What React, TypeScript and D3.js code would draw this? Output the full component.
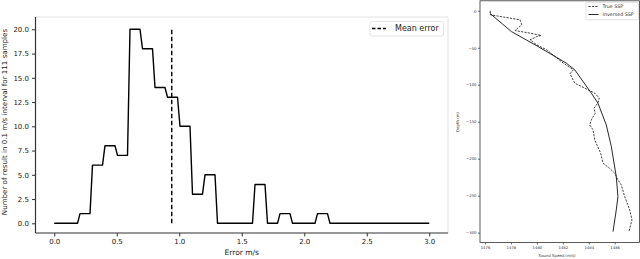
import * as d3 from 'd3';
import { useEffect, useRef } from 'react';

// left chart: counts per 0.1 m/s bin, 0.0 .. 3.0
const binStarts = d3.range(30).map((i) => +(i * 0.1).toFixed(1));
const binCounts = [0, 0, 1, 6, 8, 7, 20, 18, 14, 13, 10, 3, 5, 0, 0, 0, 4, 0, 1, 0, 0, 1, 0, 0, 0, 0, 0, 0, 0, 0];
const meanError = 0.94;
const errTicks = [0, 0.5, 1.0, 1.5, 2.0, 2.5, 3.0];
const countTicks = [0, 2.5, 5, 7.5, 10, 12.5, 15, 17.5, 20];

// right chart: sound speed profiles (speed m/s, depth m)
const trueSpeed = [1476.41, 1476.41, 1478.7, 1478.83, 1478.31, 1479.47, 1480.32, 1479.99, 1479.47, 1479.99, 1480.76, 1481.4, 1482.04, 1482.81, 1482.55, 1482.92, 1483.69, 1484.46, 1484.81, 1484.71, 1484.4, 1484.5, 1484.2, 1484.07, 1484.33, 1484.46, 1484.92, 1485.1, 1485.61, 1486.0, 1486.25, 1486.51, 1486.77, 1487.16, 1487.33, 1487.23, 1487.1];
const trueDepth = [0, -5.4, -12.2, -18.9, -26.7, -30.2, -33.4, -34.8, -39.2, -46, -52.8, -61.8, -70.8, -79.8, -85.2, -97.8, -104.6, -111.4, -118.1, -124.5, -131.7, -138.4, -147.5, -154.3, -161, -174.6, -192.6, -206.1, -212.9, -219.6, -228.7, -235.5, -251.3, -269.3, -282.8, -289.6, -298.6];
const invSpeed = [1476.36, 1478.03, 1480.09, 1482.27, 1482.92, 1484.2, 1484.71, 1485.35, 1485.74, 1486.12, 1486.25, 1486.12, 1485.87];
const invDepth = [-3.1, -28, -48.3, -70.8, -79.8, -111.4, -124.9, -154.3, -183.6, -224.2, -251.3, -269.3, -298.6];
const speedTicks = [1476, 1478, 1480, 1482, 1484, 1486];
const depthTicks = [0, -50, -100, -150, -200, -250, -300];

const FONT = 'DejaVu Sans';

export default function App() {
  const ref = useRef<SVGSVGElement | null>(null);
  useEffect(() => {
    if (!ref.current) return;
    const svg = d3.select(ref.current);
    svg.selectAll('*').remove();
    svg.append('rect').attr('width', 640).attr('height', 259).attr('fill', '#fff');

    // ---------- left chart ----------
    const L = { left: 35.5, right: 448, top: 17, bottom: 233 };
    const x = d3.scaleLinear().domain([-0.15, 3.15]).range([L.left, L.right]);
    const y = d3.scaleLinear().domain([-1, 21.27]).range([L.bottom, L.top]);
    const g = svg.append('g').attr('font-family', FONT);

    g.append('line').attr('x1', L.left).attr('x2', L.right).attr('y1', L.top).attr('y2', L.top).attr('stroke', '#e2e2e2');
    g.append('line').attr('x1', L.right).attr('x2', L.right).attr('y1', L.top).attr('y2', L.bottom).attr('stroke', '#e2e2e2');

    const xAx = g.append('g').attr('transform', `translate(0,${L.bottom})`)
      .call(d3.axisBottom(x).tickValues(errTicks).tickFormat(d3.format('.1f')).tickSizeOuter(0).tickSize(3.5).tickPadding(3));
    const yAx = g.append('g').attr('transform', `translate(${L.left},0)`)
      .call(d3.axisLeft(y).tickValues(countTicks).tickFormat(d3.format('.1f')).tickSizeOuter(0).tickSize(3.5).tickPadding(3));
    for (const ax of [xAx, yAx]) {
      ax.select('.domain').attr('stroke', '#333').attr('stroke-width', 1.2);
      ax.selectAll('.tick line').attr('stroke', '#333');
      ax.selectAll('.tick text').attr('fill', '#222').attr('font-size', 7).attr('font-family', FONT);
    }
    xAx.select('.domain').attr('d', `M${L.left},0H${L.right}`);
    yAx.select('.domain').attr('d', `M0,${L.top}V${L.bottom}`);

    // each bin drawn as a flat run with a short slanted join to the next
    const pts: [number, number][] = [];
    binStarts.forEach((s, i) => {
      const a = i === 0 ? s : s + 0.006;
      const e = i === binStarts.length - 1 ? s + 0.1 : s + 0.086;
      pts.push([a, binCounts[i]], [e, binCounts[i]]);
    });
    g.append('path')
      .attr('d', d3.line<[number, number]>().x((d) => x(d[0])).y((d) => y(d[1]))(pts))
      .attr('fill', 'none').attr('stroke', '#000').attr('stroke-width', 1.4).attr('stroke-linejoin', 'round');

    g.append('line')
      .attr('x1', x(meanError)).attr('x2', x(meanError)).attr('y1', y(0)).attr('y2', y(20.2))
      .attr('stroke', '#000').attr('stroke-width', 1.4).attr('stroke-dasharray', '4.5,2.5');

    g.append('text').attr('x', (L.left + L.right) / 2).attr('y', 254.5).attr('text-anchor', 'middle')
      .attr('font-size', 7.5).attr('fill', '#222').text('Error m/s');
    g.append('text').attr('transform', `translate(7,${(L.top + L.bottom) / 2 - 3}) rotate(-90)`).attr('text-anchor', 'middle')
      .attr('font-size', 7.1).attr('fill', '#222').text('Number of result in 0.1 m/s interval for 111 samples');

    const leg = g.append('g');
    leg.append('rect').attr('x', 370).attr('y', 21.5).attr('width', 73.5).attr('height', 14.5).attr('rx', 2)
      .attr('fill', '#fff').attr('stroke', '#ddd').attr('stroke-width', 0.8);
    leg.append('line').attr('x1', 372).attr('x2', 386).attr('y1', 28.5).attr('y2', 28.5)
      .attr('stroke', '#000').attr('stroke-width', 1.3).attr('stroke-dasharray', '3.5,2');
    leg.append('text').attr('x', 395).attr('y', 31.3).attr('font-size', 8).attr('fill', '#222').text('Mean error');

    // ---------- right chart ----------
    const R = { left: 480, right: 639.5, top: 0.8, bottom: 242.5 };
    const sx = d3.scaleLinear().domain([1475.614, 1487.912]).range([R.left, R.right]);
    const sy = d3.scaleLinear().domain([13.53, -313.3]).range([R.top, R.bottom]);
    const r = svg.append('g').attr('font-family', FONT);

    r.append('rect').attr('x', R.left).attr('y', R.top).attr('width', R.right - R.left).attr('height', R.bottom - R.top)
      .attr('fill', 'none').attr('stroke', '#333').attr('stroke-width', 0.8);

    const sxAx = r.append('g').attr('transform', `translate(0,${R.bottom})`)
      .call(d3.axisBottom(sx).tickValues(speedTicks).tickFormat(d3.format('d')).tickSizeOuter(0).tickSize(2).tickPadding(1.5));
    const syAx = r.append('g').attr('transform', `translate(${R.left},0)`)
      .call(d3.axisLeft(sy).tickValues(depthTicks).tickFormat((d) => String(d).replace('-', '\u2212')).tickSizeOuter(0).tickSize(2).tickPadding(1.5));
    for (const ax of [sxAx, syAx]) {
      ax.select('.domain').remove();
      ax.selectAll('.tick line').attr('stroke', '#333').attr('stroke-width', 0.7);
      ax.selectAll('.tick text').attr('fill', '#333').attr('font-size', 3.8).attr('font-family', FONT);
    }

    const trueLine = trueSpeed.map((s, i) => [s, trueDepth[i]] as [number, number]);
    const invLine = invSpeed.map((s, i) => [s, invDepth[i]] as [number, number]);
    const pl = d3.line<[number, number]>().x((d) => sx(d[0])).y((d) => sy(d[1]));
    r.append('path').attr('d', pl(trueLine)).attr('fill', 'none').attr('stroke', '#111')
      .attr('stroke-width', 0.8).attr('stroke-dasharray', '2.2,1.2');
    r.append('path').attr('d', pl(invLine)).attr('fill', 'none').attr('stroke', '#111').attr('stroke-width', 0.9);

    r.append('text').attr('x', 557).attr('y', 257).attr('text-anchor', 'middle')
      .attr('font-size', 3.9).attr('fill', '#333').text('Sound Speed (m/s)');
    r.append('text').attr('transform', `translate(458.5,122) rotate(-90)`).attr('text-anchor', 'middle')
      .attr('font-size', 3.9).attr('fill', '#333').text('Depth (m)');

    const rl = r.append('g');
    rl.append('rect').attr('x', 586).attr('y', 2.3).attr('width', 52.5).attr('height', 17.5).attr('rx', 1.5)
      .attr('fill', '#fff').attr('stroke', '#ccc').attr('stroke-width', 0.6);
    rl.append('line').attr('x1', 588.5).attr('x2', 598.5).attr('y1', 6.5).attr('y2', 6.5)
      .attr('stroke', '#111').attr('stroke-width', 0.8).attr('stroke-dasharray', '2.2,1.2');
    rl.append('line').attr('x1', 588.5).attr('x2', 598.5).attr('y1', 14.5).attr('y2', 14.5)
      .attr('stroke', '#111').attr('stroke-width', 0.9);
    rl.append('text').attr('x', 602.5).attr('y', 8.2).attr('font-size', 4.8).attr('fill', '#333').text('True SSP');
    rl.append('text').attr('x', 602.5).attr('y', 16.2).attr('font-size', 4.8).attr('fill', '#333').text('Inversed SSP');
  }, []);

  return <svg ref={ref} width={640} height={259} style={{ position: 'absolute', left: 0, top: 0 }} />;
}
